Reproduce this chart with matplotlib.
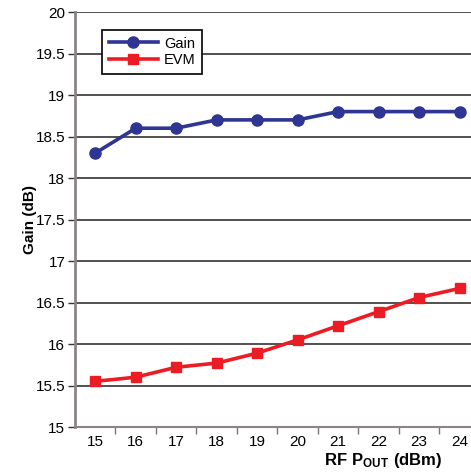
import matplotlib
matplotlib.use("Agg")
import matplotlib.pyplot as plt
import numpy as np

pout = [15, 16, 17, 18, 19, 20, 21, 22, 23, 24]
gain = [18.3, 18.6, 18.6, 18.7, 18.7, 18.7, 18.8, 18.8, 18.8, 18.8]
evm = [15.55, 15.6, 15.72, 15.77, 15.89, 16.05, 16.22, 16.39, 16.56, 16.67]
yticks = [15, 15.5, 16, 16.5, 17, 17.5, 18, 18.5, 19, 19.5, 20]
ytick_labels = ["15", "15.5", "16", "16.5", "17", "17.5", "18", "18.5", "19", "19.5", "20"]

plt.rcParams['font.family'] = ['Liberation Sans', 'DejaVu Sans']
plt.rcParams['mathtext.fontset'] = 'custom'
plt.rcParams['mathtext.rm'] = 'Liberation Sans'
plt.rcParams['mathtext.bf'] = 'Liberation Sans:bold'

fig = plt.figure(figsize=(4.71, 4.73), dpi=100)
ax = fig.add_axes([75/471, 1-427/473, 1-75/471, (427-12)/473])

blue = "#2e3592"
red = "#ec1c24"

ax.plot(pout, gain, color=blue, lw=2.6, marker='o', ms=8, label="Gain", zorder=3, clip_on=False)
ax.plot(pout, evm, color=red, lw=2.6, marker='s', ms=7.5, label="EVM", zorder=3, clip_on=False)

ax.set_xlim(14.5, 24.28)
ax.set_ylim(15, 20)
ax.set_yticks(yticks)
ax.set_yticklabels(ytick_labels)
ax.set_xticks(pout)
ax.set_xticklabels([str(p) for p in pout])
ax.set_xticks(np.arange(15.5, 24.3, 1.0), minor=True)
ax.tick_params(axis='x', which='major', length=0, pad=6, labelsize=11)
ax.tick_params(axis='x', which='minor', length=5, width=1, color="#777777", direction='out')
ax.tick_params(axis='y', which='major', length=5, width=1, color="#333333", labelsize=11, pad=2)

ax.grid(axis='y', color="#222222", lw=1.1)
ax.set_axisbelow(True)
for s in ['top', 'right']:
    ax.spines[s].set_visible(False)
ax.spines['left'].set_color("#8c8484")
ax.spines['left'].set_linewidth(2)
ax.spines['bottom'].set_color("#8c8484")
ax.spines['bottom'].set_linewidth(1.5)

ax.set_ylabel("Gain (dB)", fontsize=11, fontweight='bold')
ax.yaxis.set_label_coords((37-75)/396, 0.5)
ax.set_xlabel(r"$\mathbf{RF\ P_{OUT}\ (dBm)}$", fontsize=12)
ax.xaxis.set_label_coords((383-75)/396, -(451-427)/415)

leg = ax.legend(loc='upper left', bbox_to_anchor=((102-75)/396, 1-(30-12)/415),
                frameon=True, fancybox=False, edgecolor='black', framealpha=1,
                fontsize=10.5, handlelength=3.4, borderpad=0.45, labelspacing=0.2,
                handletextpad=0.4, borderaxespad=0)
leg.get_frame().set_linewidth(1.2)

fig.savefig("out.png", dpi=100)
